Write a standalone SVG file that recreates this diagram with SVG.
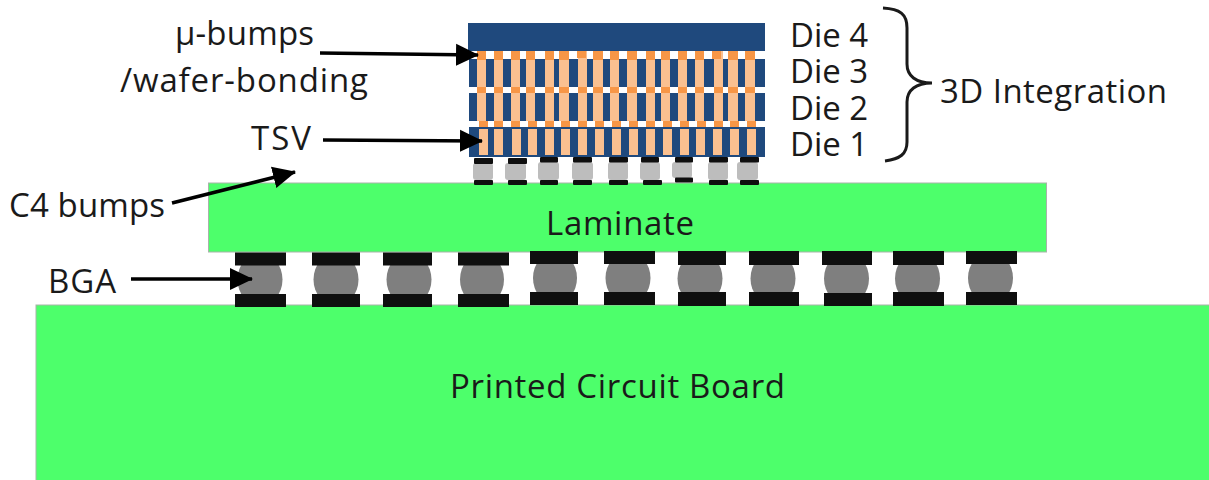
<svg xmlns="http://www.w3.org/2000/svg" width="1209" height="480" viewBox="0 0 1209 480">
<style>
text{font-family:"Open Sans","Noto Sans","Liberation Sans",sans-serif;font-size:33px;fill:#1a1a1a}
.g{fill:#4dff6b;stroke:#a9b3aa;stroke-width:1}
.d{fill:#1f497d}
.o{fill:#f79646}
.l{fill:#fac090}
.p{fill:#0f0f0f}
.b{fill:#7f7f7f}
.c{fill:#bdbdbd}
.a{stroke:#000;stroke-width:3.500;fill:none;marker-end:url(#h)}
</style>
<defs><marker id="h" markerUnits="userSpaceOnUse" markerWidth="24" markerHeight="24" refX="22" refY="12" orient="auto"><path d="M0 1L23 12L0 23Z" fill="#000"/></marker></defs>
<rect width="1209" height="480" fill="#fff"/>
<g id="pcb"><rect class="g" x="36" y="305" width="1174" height="176"/><text x="450" y="398" textLength="335">Printed Circuit Board</text></g>
<g id="laminate"><rect class="g" x="208.500" y="183" width="838" height="69"/><text x="546" y="235" textLength="148">Laminate</text></g>
<g id="bga">
<ellipse class="b" cx="260" cy="279.500" rx="22.500" ry="26"/><ellipse class="b" cx="336" cy="279.500" rx="22.500" ry="26"/><ellipse class="b" cx="409" cy="279.500" rx="22.500" ry="26"/><ellipse class="b" cx="482" cy="279.500" rx="22" ry="26"/><ellipse class="b" cx="555" cy="278" rx="22" ry="26"/><ellipse class="b" cx="628" cy="278" rx="22.500" ry="26"/><ellipse class="b" cx="700" cy="278.500" rx="22.500" ry="26"/><ellipse class="b" cx="773" cy="278.500" rx="22.500" ry="26"/><ellipse class="b" cx="846.500" cy="278.500" rx="22.500" ry="26"/><ellipse class="b" cx="917.500" cy="278.500" rx="22.500" ry="26"/><ellipse class="b" cx="990.500" cy="278" rx="22.500" ry="26"/>
<rect class="p" x="235" y="252.500" width="51" height="13"/><rect class="p" x="235" y="294" width="51" height="13"/>
<rect class="p" x="312" y="252.500" width="48" height="13"/><rect class="p" x="312" y="294" width="48" height="13"/>
<rect class="p" x="383" y="252.500" width="49" height="13"/><rect class="p" x="383" y="294" width="49" height="13"/>
<rect class="p" x="458" y="252.500" width="51" height="13"/><rect class="p" x="458" y="294" width="51" height="13"/>
<rect class="p" x="530" y="251" width="48" height="13"/><rect class="p" x="530" y="292" width="48" height="13"/>
<rect class="p" x="604" y="251" width="51" height="13"/><rect class="p" x="604" y="292" width="51" height="13"/>
<rect class="p" x="678" y="251" width="48" height="14"/><rect class="p" x="678" y="292" width="48" height="14"/>
<rect class="p" x="749" y="251" width="50" height="14"/><rect class="p" x="749" y="292" width="50" height="14"/>
<rect class="p" x="822" y="251" width="50" height="14"/><rect class="p" x="824" y="293" width="48" height="13"/>
<rect class="p" x="893" y="251" width="51" height="14"/><rect class="p" x="893" y="292" width="51" height="14"/>
<rect class="p" x="966" y="251" width="51" height="13"/><rect class="p" x="966" y="292" width="51" height="13"/>
</g>
<g id="c4">
<rect class="c" x="473" y="163" width="20" height="17" rx="3"/><rect class="c" x="505" y="163" width="21" height="17" rx="3"/><rect class="c" x="538" y="162" width="21" height="18" rx="3"/><rect class="c" x="572" y="162" width="21" height="18" rx="3"/><rect class="c" x="608" y="162" width="20" height="18" rx="3"/><rect class="c" x="640" y="162" width="20" height="18" rx="3"/><rect class="c" x="672" y="162" width="20" height="16" rx="3"/><rect class="c" x="708" y="162" width="20" height="18" rx="3"/><rect class="c" x="737" y="162" width="21" height="18" rx="3"/>
<rect class="p" x="474" y="158" width="19" height="6" rx="1"/><rect class="p" x="508" y="158" width="19" height="6" rx="1"/><rect class="p" x="540" y="157" width="18" height="5.500" rx="1"/><rect class="p" x="573" y="157" width="19" height="5.500" rx="1"/><rect class="p" x="609" y="157" width="19" height="5.500" rx="1"/><rect class="p" x="641" y="157" width="18" height="5.500" rx="1"/><rect class="p" x="675" y="157" width="18" height="5.500" rx="1"/><rect class="p" x="709" y="157" width="19" height="5.500" rx="1"/><rect class="p" x="740" y="157" width="19" height="5.500" rx="1"/>
<rect class="p" x="474" y="180" width="19" height="5" rx="1"/><rect class="p" x="508" y="180" width="19" height="5" rx="1"/><rect class="p" x="540" y="180" width="18" height="5" rx="1"/><rect class="p" x="573" y="180" width="19" height="5" rx="1"/><rect class="p" x="609" y="180" width="19" height="5" rx="1"/><rect class="p" x="643" y="180" width="19" height="5" rx="1"/><rect class="p" x="675" y="177.500" width="18" height="5" rx="1"/><rect class="p" x="709" y="180" width="19" height="5" rx="1"/><rect class="p" x="740" y="180" width="19" height="5" rx="1"/>
</g>
<g id="die1"><rect class="d" x="469" y="127" width="296" height="30"/><text x="790" y="156" textLength="78">Die 1</text></g>
<g id="die2"><rect class="d" x="469" y="93" width="296" height="28"/><text x="790" y="120" textLength="78">Die 2</text></g>
<g id="die3"><rect class="d" x="469" y="59" width="296" height="28"/><text x="790" y="83" textLength="78">Die 3</text></g>
<g id="die4"><rect class="d" x="468" y="23" width="297" height="28"/><text x="790" y="47" textLength="78">Die 4</text></g>
<g id="pillars">
<path class="l" d="M477 51h9v70h-9zM494 51h9v70h-9zM511 51h9v70h-9zM526 51h9v70h-9zM545 51h9v70h-9zM559 51h10v70h-10zM578 51h9v70h-9zM593 51h10v70h-10zM610 51h9v70h-9zM627 51h10v70h-10zM646 51h9v70h-9zM661 51h9v70h-9zM678 51h9v70h-9zM695 51h9v70h-9zM714 51h9v70h-9zM728 51h10v70h-10zM745 51h10v70h-10z"/>
<path class="o" d="M477 51h9v9h-9zM494 51h9v9h-9zM511 51h9v9h-9zM526 51h9v9h-9zM545 51h9v9h-9zM559 51h10v9h-10zM577 51h9v7h-9zM593 51h10v9h-10zM610 51h9v9h-9zM627 51h10v9h-10zM646 51h9v9h-9zM661 51h9v9h-9zM678 51h9v9h-9zM695 51h9v9h-9zM712 51h9v8h-9zM728 51h10v9h-10zM745 51h10v9h-10z"/>
<path class="o" d="M477 87h9v6h-9zM494 87h9v6h-9zM511 87h9v6h-9zM526 87h9v6h-9zM545 87h9v6h-9zM559 87h10v6h-10zM578 87h9v6h-9zM593 87h10v6h-10zM610 87h9v6h-9zM627 87h10v6h-10zM646 87h9v6h-9zM661 87h9v6h-9zM678 87h9v6h-9zM695 87h9v6h-9zM714 87h9v6h-9zM728 87h10v6h-10zM745 87h10v6h-10z"/>
<path class="o" d="M479 121h9v6h-9zM494 121h9v6h-9zM511 121h9v6h-9zM528 121h9v6h-9zM545 121h9v6h-9zM561 121h9v6h-9zM578 121h9v6h-9zM595 121h9v6h-9zM612 121h9v6h-9zM629 121h9v6h-9zM646 121h9v6h-9zM663 121h9v6h-9zM680 121h9v6h-9zM697 121h9v6h-9zM714 121h9v6h-9zM730 121h9v6h-9zM747 121h9v6h-9z"/>
<path class="l" d="M479 129h9v26h-9zM494 129h9v26h-9zM512 129h9v26h-9zM528 129h9v26h-9zM545 129h9v26h-9zM561 129h9v26h-9zM578 129h9v26h-9zM595 129h9v26h-9zM612 129h9v26h-9zM629 129h9v26h-9zM646 129h9v26h-9zM663 129h9v26h-9zM680 129h9v26h-9zM696 129h9v26h-9zM713 129h9v26h-9zM730 129h9v26h-9zM747 129h9v26h-9z"/>
</g>
<g id="connectors">
<path class="a" d="M320 53L478 55"/>
<path class="a" d="M323 140L482 141"/>
<path class="a" d="M172 203L295 172"/>
<path class="a" d="M131 279L252 279"/>
<path d="M883 8C900 9 907 14 907 28V64C907 76 916 83 932 83C916 83 907 90 907 102V142C907 154 900 159 885 161" fill="none" stroke="#1a1a1a" stroke-width="3"/>
</g>
<g id="labels">
<text x="175" y="45" textLength="139">µ-bumps</text>
<text x="120" y="92" textLength="248">/wafer-bonding</text>
<text x="251" y="150" textLength="60">TSV</text>
<text x="9" y="217" textLength="156">C4 bumps</text>
<text x="48" y="293" textLength="68">BGA</text>
<text x="940" y="103" textLength="227">3D Integration</text>
</g>
</svg>
